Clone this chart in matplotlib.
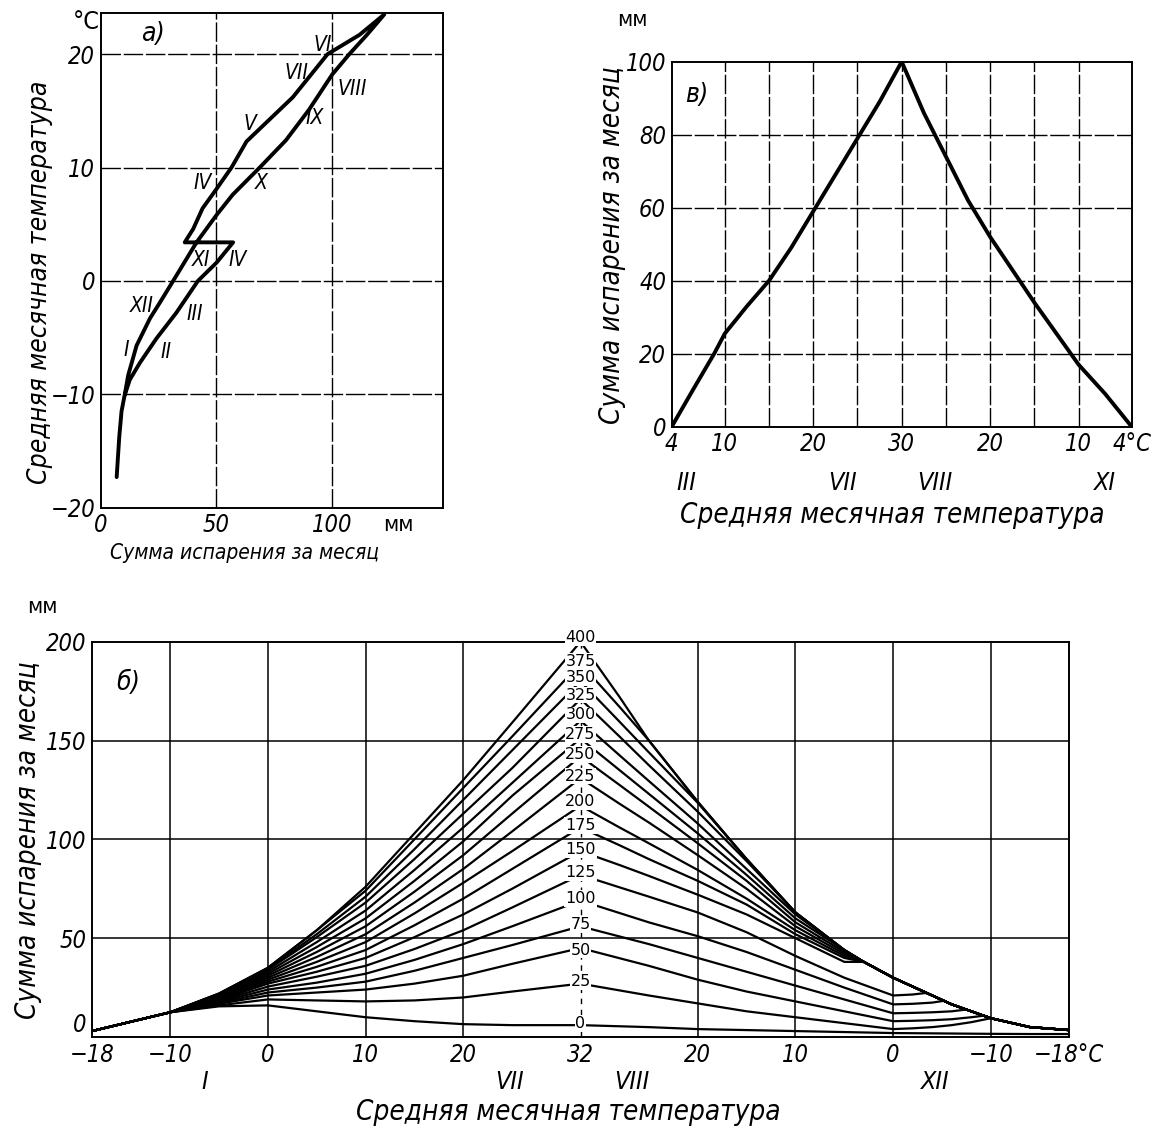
import matplotlib
matplotlib.use("Agg")
import matplotlib.pyplot as plt
import numpy as np

W, H = 1176, 1133
plt.rcParams['font.family'] = ['DejaVu Sans']
plt.rcParams['font.stretch'] = 'condensed'

# --- panel a: annual loop, evaporation (mm) vs mean monthly temperature ---
a_x = [6.9, 8.0, 9.0, 10.5, 11.9, 15.5, 21.3, 25.6, 31.3, 41.4, 50.0, 57.0, 68.7, 80.0, 90.0,
       100.0, 107.4, 115.0, 122.5, 111.8, 98.0, 83.0, 63.0, 56.5, 50.0, 44.0, 40.0, 36.3,
       57.2, 50.0, 42.0, 32.7, 24.0, 17.0, 12.6, 10.5]
a_y = [-17.3, -13.8, -11.5, -9.9, -8.3, -5.7, -3.3, -1.9, 0.0, 3.4, 5.8, 7.6, 10.0, 12.4, 15.1,
       18.2, 20.0, 21.7, 23.5, 21.7, 20.0, 16.2, 12.3, 10.0, 8.1, 6.4, 4.6, 3.4,
       3.4, 1.6, 0.0, -2.8, -5.1, -7.2, -8.7, -10.0]
a_months = ['VI', 'VII', 'VIII', 'V', 'IX', 'IV', 'X', 'XI', 'IV', 'XII', 'III', 'I', 'II']
a_mx = [95.9, 84.5, 108.6, 64.4, 92.4, 44.2, 69.4, 43.5, 59.3, 17.7, 40.6, 11.2, 28.4]
a_my = [20.8, 18.3, 16.9, 13.8, 14.4, 8.6, 8.6, 1.8, 1.8, -2.2, -2.9, -6.1, -6.3]

# --- panel в: evaporation vs temperature, rising (spring) and falling (autumn) branch ---
v_rise_T = [4, 6.5, 8.8, 10, 12.5, 15, 17.5, 20, 22.5, 25, 27.5, 30]
v_rise_y = [0, 10.5, 20, 25.5, 33, 40, 49, 59, 69, 79, 89, 100]
v_fall_T = [30, 27.5, 25, 22.5, 20, 17.5, 15, 12.5, 10, 7, 4]
v_fall_y = [100, 86, 74, 62, 52, 43, 34, 25.5, 17, 9, 0]

# --- panel б: family of curves, labelled by annual sum (0..400) ---
b_levels = [0, 25, 50, 75, 100, 125, 150, 175, 200, 225, 250, 275, 300, 325, 350, 375, 400]
b_left_T = [-18, -10, -5, 0, 5, 10, 15, 20, 25, 32]
b_left_y = [
    [3, 12.5, 15.5, 16, 13, 10, 8, 6.5, 6, 6],
    [3, 12.5, 16, 19, 18.5, 18, 18.5, 20, 23, 27],
    [3, 12.5, 16.8, 21, 22.5, 24, 27, 31, 37, 45],
    [3, 12.5, 17.2, 22.5, 25, 28, 33.5, 40, 46.5, 56],
    [3, 12.5, 17.7, 24, 27.5, 32, 39, 47, 56, 69],
    [3, 12.5, 18.2, 25.5, 30.5, 36, 44.5, 54, 65.5, 82],
    [3, 12.5, 18.7, 27, 33, 40, 50.5, 62, 75, 94],
    [3, 12.5, 19.2, 28, 35.5, 44, 56.5, 70, 85, 106],
    [3, 12.5, 19.6, 29, 38, 48, 62.5, 78, 94, 117],
    [3, 12.5, 20, 30, 40.5, 52, 68, 85, 104, 131],
    [3, 12.5, 20.4, 31, 43, 56, 73.5, 92, 113, 142],
    [3, 12.5, 20.8, 32, 45.5, 60, 79, 99, 122, 151],
    [3, 12.5, 21.2, 33, 48, 64, 84.5, 106, 128.5, 160],
    [3, 12.5, 21.5, 34, 50.5, 68, 90, 113, 136, 171],
    [3, 12.5, 21.8, 34.5, 52, 71, 95, 120, 145, 180],
    [3, 12.5, 22, 35, 54, 74, 100, 126, 152, 189],
    [3, 12.5, 22, 35, 54, 76, 103, 130, 159, 200],
]
# right half (temperature falling from 32 to -18): envelope and each curve until it joins it
b_env_T = [32, 28, 25, 20, 15, 10, 5, 3, 0, -2, -4, -6, -8, -10, -14, -18]
b_env_y = [200, 172, 150, 119, 90, 63, 44, 38, 30, 25.5, 21, 16.5, 13, 9.5, 5, 3.5]
b_up_T = [32, 28, 25, 20, 15, 10, 5, 3]
b_right_T = [
    [32, 25, 20, 15, 10, 5, 0, -5, -10, -14, -18],
    [32, 25, 20, 15, 10, 5, 0, -2, -4, -6, -8, -10],
    [32, 25, 20, 15, 10, 5, 0, -2, -4, -6, -8, -9.3],
    [32, 25, 20, 15, 10, 5, 0, -2, -4, -6, -7.5],
    [32, 25, 20, 15, 10, 5, 0, -2, -4, -5.2],
    [32, 25, 20, 15, 10, 5, 0, -2, -3.4],
    b_up_T, b_up_T, b_up_T, b_up_T, b_up_T, b_up_T, b_up_T, b_up_T, b_up_T, b_up_T,
    b_env_T,
]
b_right_y = [
    [6, 5, 4, 3.5, 3, 2.5, 2, 1.8, 1.6, 1.5, 1.5],
    [27, 21, 17, 13, 10, 7, 4, 4.4, 5, 6, 7.5, 9.5],
    [45, 36, 29, 23, 18, 13, 8, 8.2, 8.5, 9, 10, 10.8],
    [56, 47, 40, 33, 26, 19, 12, 12.2, 12.5, 13, 13.9],
    [69, 58, 51, 43, 34, 25, 16.5, 16.8, 17.4, 18.3],
    [82, 71, 63, 53, 41, 30, 21, 21.5, 22.3],
    [94, 87, 81.5, 72, 62, 50, 38, 38],
    [106, 97, 90, 79, 67, 52, 40, 38],
    [117, 106, 98, 84.5, 70, 54, 41, 38],
    [131, 118, 108.5, 92, 75, 56, 42, 38],
    [142, 127.5, 116.5, 98, 79, 58, 43, 38],
    [151, 135, 123, 103, 82, 60, 44, 38],
    [160, 142.5, 129.5, 108, 85, 62, 44, 38],
    [171, 152, 137.5, 114, 89, 63, 44, 38],
    [180, 159.5, 144, 118.5, 90, 63, 44, 38],
    [189, 167, 150, 119, 90, 63, 44, 38],
    b_env_y,
]
b_label_y = [7, 28, 44, 57, 70, 83, 95, 107, 119, 132, 143, 153, 163, 173, 182, 190, 202]

fig = plt.figure(figsize=(W / 100, H / 100), dpi=100)


def rect(left, top, right, bottom):
    return [left / W, 1 - bottom / H, (right - left) / W, (bottom - top) / H]


def ptext(px, py, s, **kw):
    fig.text(px / W, 1 - py / H, s, **kw)


def style_spines(ax):
    for sp in ax.spines.values():
        sp.set_linewidth(1.4)
        sp.set_color('k')


grid_ls = (0, (14, 2))
TICK = dict(fontsize=17, fontstyle='italic')
LAB = dict(fontsize=20, fontstyle='italic', ha='center', va='center')
MON = dict(fontsize=18, fontstyle='italic', ha='center', va='center')

# ---------------- panel a ----------------
ax_a = fig.add_axes(rect(100.7, 13.3, 443.3, 507.7))
ax_a.set_xlim(0, 148)
ax_a.set_ylim(-20, 23.6)
for v in [50, 100]:
    ax_a.axvline(v, color='k', lw=1.0, ls=grid_ls)
for v in [-10, 0, 10, 20]:
    ax_a.axhline(v, color='k', lw=1.0, ls=grid_ls)
ax_a.plot(a_x, a_y, color='k', lw=2.8, solid_joinstyle='round', solid_capstyle='round')
for m, x, y in zip(a_months, a_mx, a_my):
    ax_a.text(x, y, m, fontsize=15, fontstyle='italic', ha='center', va='center')
ax_a.text(22.7, 21.8, 'a)', fontsize=19, fontstyle='italic', ha='center', va='center')
ax_a.set_xticks([0, 50, 100], ['0', '50', '100'], **TICK)
ax_a.set_yticks([-20, -10, 0, 10, 20], ['\u221220', '\u221210', '0', '10', '20'], **TICK)
ax_a.tick_params(length=0, pad=4)
style_spines(ax_a)
ptext(86, 22, '°C', fontsize=18, ha='center', va='center')
ptext(398, 525, 'мм', fontsize=16, ha='center', va='center')
ptext(245, 553, 'Сумма испарения за месяц', fontsize=15, fontstyle='italic',
      ha='center', va='center')
ptext(40, 282, 'Средняя месячная температура', rotation=90, fontsize=19,
      fontstyle='italic', ha='center', va='center')

# ---------------- panel в ----------------
ax_v = fig.add_axes(rect(671.7, 61.7, 1131.7, 426.7))
ax_v.set_xlim(0, 52)
ax_v.set_ylim(0, 100)
# positions: rising branch u = T - 4, falling branch u = 56 - T
for t in [10, 15, 20, 25]:
    ax_v.axvline(t - 4, color='k', lw=1.0, ls=grid_ls)
    ax_v.axvline(56 - t, color='k', lw=1.0, ls=grid_ls)
ax_v.axvline(26, color='k', lw=1.0, ls=grid_ls)
for v in [20, 40, 60, 80]:
    ax_v.axhline(v, color='k', lw=1.0, ls=grid_ls)
ax_v.plot(np.array(v_rise_T) - 4, v_rise_y, color='k', lw=2.8, solid_capstyle='round')
ax_v.plot(56 - np.array(v_fall_T), v_fall_y, color='k', lw=2.8, solid_capstyle='round')
ax_v.text(2.8, 91, 'в)', fontsize=19, fontstyle='italic', ha='center', va='center')
v_tick_u = [0, 6, 16, 26, 36, 46, 52]
v_tick_lab = ['4', '10', '20', '30', '20', '10', '4°C']
ax_v.set_xticks(v_tick_u, v_tick_lab, **TICK)
ax_v.set_yticks([0, 20, 40, 60, 80, 100], ['0', '20', '40', '60', '80', '100'], **TICK)
ax_v.tick_params(length=0, pad=4)
style_spines(ax_v)
ptext(632, 20, 'мм', fontsize=16, ha='center', va='center')
for m, px in zip(['III', 'VII', 'VIII', 'XI'], [686, 843, 935, 1105]):
    ptext(px, 483, m, **MON)
ptext(892, 515, 'Средняя месячная температура', **LAB)
ptext(612, 245, 'Сумма испарения за месяц', rotation=90, **LAB)

# ---------------- panel б ----------------
ax_b = fig.add_axes(rect(92, 641.7, 1069, 1037))
ax_b.set_xlim(0, 100)
ax_b.set_ylim(0, 200)
# positions: left half u = T + 18, right half u = 82 - T
for t in [-10, 0, 10, 20]:
    ax_b.axvline(t + 18, color='k', lw=1.1)
    ax_b.axvline(82 - t, color='k', lw=1.1)
for v in [50, 100, 150]:
    ax_b.axhline(v, color='k', lw=1.1)
ax_b.axvline(50, color='k', lw=1.0, ls=(0, (4, 4)))

for i, lev in enumerate(b_levels):
    tr = list(b_right_T[i])
    yr = list(b_right_y[i])
    last = tr[-1]
    tr += [t for t in b_env_T if t < last]
    yr += [y for t, y in zip(b_env_T, b_env_y) if t < last]
    u = np.concatenate([np.array(b_left_T) + 18, 82 - np.array(tr[1:])])
    y = np.concatenate([b_left_y[i], yr[1:]])
    ax_b.plot(u, y, color='k', lw=1.6, solid_joinstyle='round')

for lev, y in zip(b_levels, b_label_y):
    ax_b.text(50, y, str(lev), fontsize=11.5, fontstretch='normal', ha='center', va='center',
              bbox=dict(boxstyle='square,pad=0.05', fc='white', ec='none'), zorder=5)

ax_b.text(3.7, 179, 'б)', fontsize=19, fontstyle='italic', ha='center', va='center')
b_tick_u = [0, 8, 18, 28, 38, 50, 62, 72, 82, 92, 100]
b_tick_lab = ['\u221218', '\u221210', '0', '10', '20', '32', '20', '10', '0', '\u221210',
              '\u221218°C']
ax_b.set_xticks(b_tick_u, b_tick_lab, **TICK)
ax_b.set_yticks([0, 50, 100, 150, 200], ['0', '50', '100', '150', '200'], **TICK)
ax_b.tick_params(length=0, pad=4)
ax_b.get_yticklabels()[0].set_verticalalignment('bottom')
style_spines(ax_b)
ptext(42, 607, 'мм', fontsize=16, ha='center', va='center')
for m, px in zip(['I', 'VII', 'VIII', 'XII'], [205, 510, 632, 935]):
    ptext(px, 1082, m, **MON)
ptext(568, 1112, 'Средняя месячная температура', **LAB)
ptext(28, 840, 'Сумма испарения за месяц', rotation=90, **LAB)

fig.savefig("out.png", dpi=100)
